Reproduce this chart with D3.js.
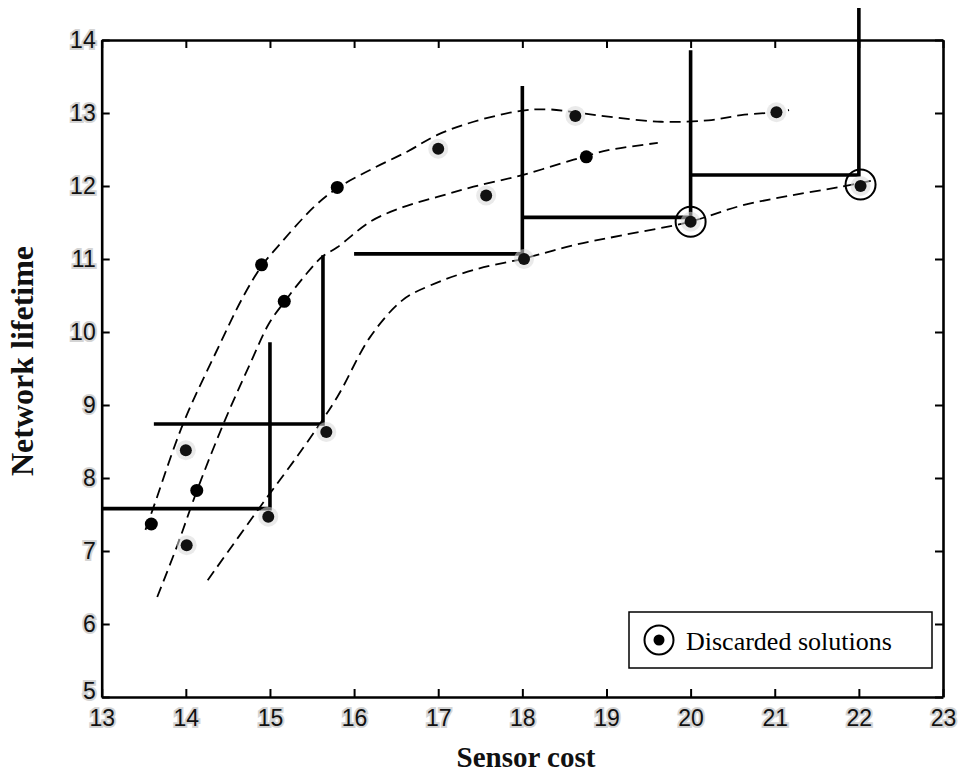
<!DOCTYPE html>
<html>
<head>
<meta charset="utf-8">
<script src="https://cdn.jsdelivr.net/npm/d3@7/dist/d3.min.js"></script>
<style>
  html, body { margin: 0; padding: 0; background: #fff; }
  svg { display: block; }
</style>
</head>
<body>
<svg id="chart" width="964" height="775"></svg>
<script>
// Axis ranges and tick values
const xDomain = [13, 23];
const yDomain = [5, 14];
const xTicks = [13, 14, 15, 16, 17, 18, 19, 20, 21, 22, 23];
const yTicks = [5, 6, 7, 8, 9, 10, 11, 12, 13, 14];

// Solutions drawn as crisp dots [cost, lifetime]
const solidPoints = [
  [13.59, 7.37], [14.13, 7.83], [14.90, 10.92], [15.17, 10.42],
  [15.80, 11.98], [18.76, 12.40]
];
// Solutions drawn as speckled dots [cost, lifetime]
const speckledPoints = [
  [14.00, 8.38], [14.01, 7.08], [14.98, 7.47], [15.67, 8.63],
  [17.00, 12.51], [17.57, 11.87], [18.02, 11.00], [18.63, 12.96],
  [20.00, 11.51], [21.02, 13.01], [22.02, 12.00]
];
// Discarded solutions (ringed)
const discarded = [[20.00, 11.51], [22.02, 12.02]];

// Dashed trend curves
const upperCurve = [
  [13.52, 7.29], [13.61, 7.58], [13.97, 8.75], [14.37, 9.75], [14.68, 10.48],
  [14.91, 10.92], [15.04, 11.10], [15.52, 11.71], [15.80, 11.97], [16.19, 12.22],
  [16.63, 12.47], [16.99, 12.70], [17.42, 12.88], [17.98, 13.03], [18.30, 13.05],
  [18.63, 13.01], [19.02, 12.95], [19.65, 12.88], [20.21, 12.90], [20.60, 12.97],
  [20.99, 13.01], [21.17, 13.04]
];
const middleCurve = [
  [13.66, 6.37], [13.90, 7.08], [14.13, 7.82], [14.45, 8.75], [14.77, 9.58],
  [14.99, 10.12], [15.17, 10.41], [15.40, 10.75], [15.62, 11.03], [15.80, 11.16],
  [16.19, 11.51], [16.58, 11.71], [16.99, 11.85], [17.42, 11.99], [18.00, 12.15],
  [18.61, 12.36], [19.02, 12.49], [19.61, 12.59]
];
const lowerCurve = [
  [14.26, 6.60], [14.88, 7.60], [15.40, 8.42], [15.80, 9.11], [16.19, 9.93],
  [16.58, 10.44], [16.91, 10.64], [17.42, 10.85], [18.03, 11.01], [18.61, 11.19],
  [19.21, 11.33], [19.99, 11.51], [20.60, 11.73], [21.19, 11.87], [21.79, 11.99],
  [22.18, 12.08]
];
const curves = [upperCurve, middleCurve, lowerCurve];

// Staircase steps: horizontal from x0 to x1 at level y, then vertical at x1 up to top
const stepX0 = [13.00, 13.62, 16.00, 18.00, 20.00];
const stepX1 = [15.00, 15.63, 18.00, 20.00, 22.00];
const stepY = [7.58, 8.74, 11.07, 11.57, 12.15];
const stepTop = [9.86, 11.05, 13.37, 13.86, 14.44];

const legendLabel = "Discarded solutions";
const xTitle = "Sensor cost";
const yTitle = "Network lifetime";

// Layout
const svg = d3.select("#chart");
const plot = { left: 101.7, top: 40, right: 943, bottom: 697 };

const x = d3.scaleLinear().domain(xDomain).range([plot.left, plot.right]);
const y = d3.scaleLinear().domain(yDomain).range([plot.bottom, plot.top]);

const tickFont = "'Liberation Sans', Arial, sans-serif";

function styleAxis(g) {
  g.select(".domain").attr("stroke", "#000").attr("stroke-width", 2.6);
  g.selectAll(".tick line").attr("stroke", "#000").attr("stroke-width", 2);
  g.selectAll(".tick text")
    .attr("font-family", tickFont)
    .attr("font-size", 23)
    .attr("fill", "#111")
    .attr("stroke", "#d4d4d4")
    .attr("stroke-width", 4)
    .attr("paint-order", "stroke");
}

// Bottom axis with labels
svg.append("g")
  .attr("transform", `translate(0,${plot.bottom})`)
  .call(d3.axisBottom(x).tickValues(xTicks).tickFormat(d3.format("d"))
    .tickSize(-8).tickSizeOuter(0).tickPadding(13))
  .call(styleAxis);

// Top axis, ticks only
svg.append("g")
  .attr("transform", `translate(0,${plot.top})`)
  .call(d3.axisTop(x).tickValues(xTicks).tickFormat("")
    .tickSize(-8).tickSizeOuter(0))
  .call(styleAxis);

// Left axis with labels; the lowest label sits a little higher, clear of the x labels
svg.append("g")
  .attr("transform", `translate(${plot.left},0)`)
  .call(d3.axisLeft(y).tickValues(yTicks).tickFormat(d3.format("d"))
    .tickSize(-8).tickSizeOuter(0).tickPadding(6))
  .call(styleAxis)
  .call(g => g.selectAll(".tick text").filter(d => d === yDomain[0]).attr("dy", "0.05em"));

// Right axis, ticks only
svg.append("g")
  .attr("transform", `translate(${plot.right},0)`)
  .call(d3.axisRight(y).tickValues(yTicks).tickFormat("")
    .tickSize(-8).tickSizeOuter(0))
  .call(styleAxis);

// Dashed curves
const line = d3.line()
  .x(d => x(d[0]))
  .y(d => y(d[1]))
  .curve(d3.curveCatmullRom.alpha(0.5));

svg.append("g")
  .selectAll("path")
  .data(curves)
  .join("path")
  .attr("d", line)
  .attr("fill", "none")
  .attr("stroke", "#000")
  .attr("stroke-width", 1.8)
  .attr("stroke-dasharray", "11,6");

// Staircase
const steps = stepX0.map((x0, i) => ({ x0, x1: stepX1[i], y: stepY[i], top: stepTop[i] }));
svg.append("g")
  .selectAll("path")
  .data(steps)
  .join("path")
  .attr("d", s => `M${x(s.x0)},${y(s.y)}H${x(s.x1)}V${y(s.top)}`)
  .attr("fill", "none")
  .attr("stroke", "#000")
  .attr("stroke-width", 3.6)
  .attr("stroke-linejoin", "miter");

// Speckled solutions: grey halo behind a dark dot
const speck = svg.append("g");
speck.selectAll("circle.halo")
  .data(speckledPoints)
  .join("circle")
  .attr("class", "halo")
  .attr("cx", d => x(d[0]))
  .attr("cy", d => y(d[1]))
  .attr("r", 10)
  .attr("fill", "#d9d9d9")
  .attr("opacity", 0.55);
speck.selectAll("circle.dot")
  .data(speckledPoints)
  .join("circle")
  .attr("class", "dot")
  .attr("cx", d => x(d[0]))
  .attr("cy", d => y(d[1]))
  .attr("r", 6)
  .attr("fill", "#111");

// Crisp solutions
svg.append("g")
  .selectAll("circle")
  .data(solidPoints)
  .join("circle")
  .attr("cx", d => x(d[0]))
  .attr("cy", d => y(d[1]))
  .attr("r", 6.5)
  .attr("fill", "#000");

// Rings around discarded solutions
svg.append("g")
  .selectAll("circle")
  .data(discarded)
  .join("circle")
  .attr("cx", d => x(d[0]))
  .attr("cy", d => y(d[1]))
  .attr("r", 15)
  .attr("fill", "none")
  .attr("stroke", "#000")
  .attr("stroke-width", 2);

// Legend
const legend = svg.append("g").attr("transform", "translate(629,612)");
legend.append("rect")
  .attr("width", 303).attr("height", 56)
  .attr("fill", "#fff").attr("stroke", "#000").attr("stroke-width", 1.5);
legend.append("circle")
  .attr("cx", 30).attr("cy", 28).attr("r", 14.5)
  .attr("fill", "none").attr("stroke", "#000").attr("stroke-width", 2);
legend.append("circle")
  .attr("cx", 30).attr("cy", 28).attr("r", 5.5)
  .attr("fill", "#000");
legend.append("text")
  .attr("x", 57).attr("y", 38)
  .attr("font-family", "'Liberation Serif', 'Times New Roman', serif")
  .attr("font-size", 26)
  .attr("fill", "#000")
  .text(legendLabel);

// Axis titles
svg.append("text")
  .attr("x", 526).attr("y", 767)
  .attr("text-anchor", "middle")
  .attr("font-family", "'Liberation Serif', 'Times New Roman', serif")
  .attr("font-weight", "bold")
  .attr("font-size", 29)
  .attr("fill", "#111")
  .text(xTitle);

svg.append("text")
  .attr("transform", "translate(33,361) rotate(-90)")
  .attr("text-anchor", "middle")
  .attr("font-family", "'Liberation Serif', 'Times New Roman', serif")
  .attr("font-weight", "bold")
  .attr("font-size", 32)
  .attr("fill", "#111")
  .text(yTitle);
</script>
</body>
</html>
